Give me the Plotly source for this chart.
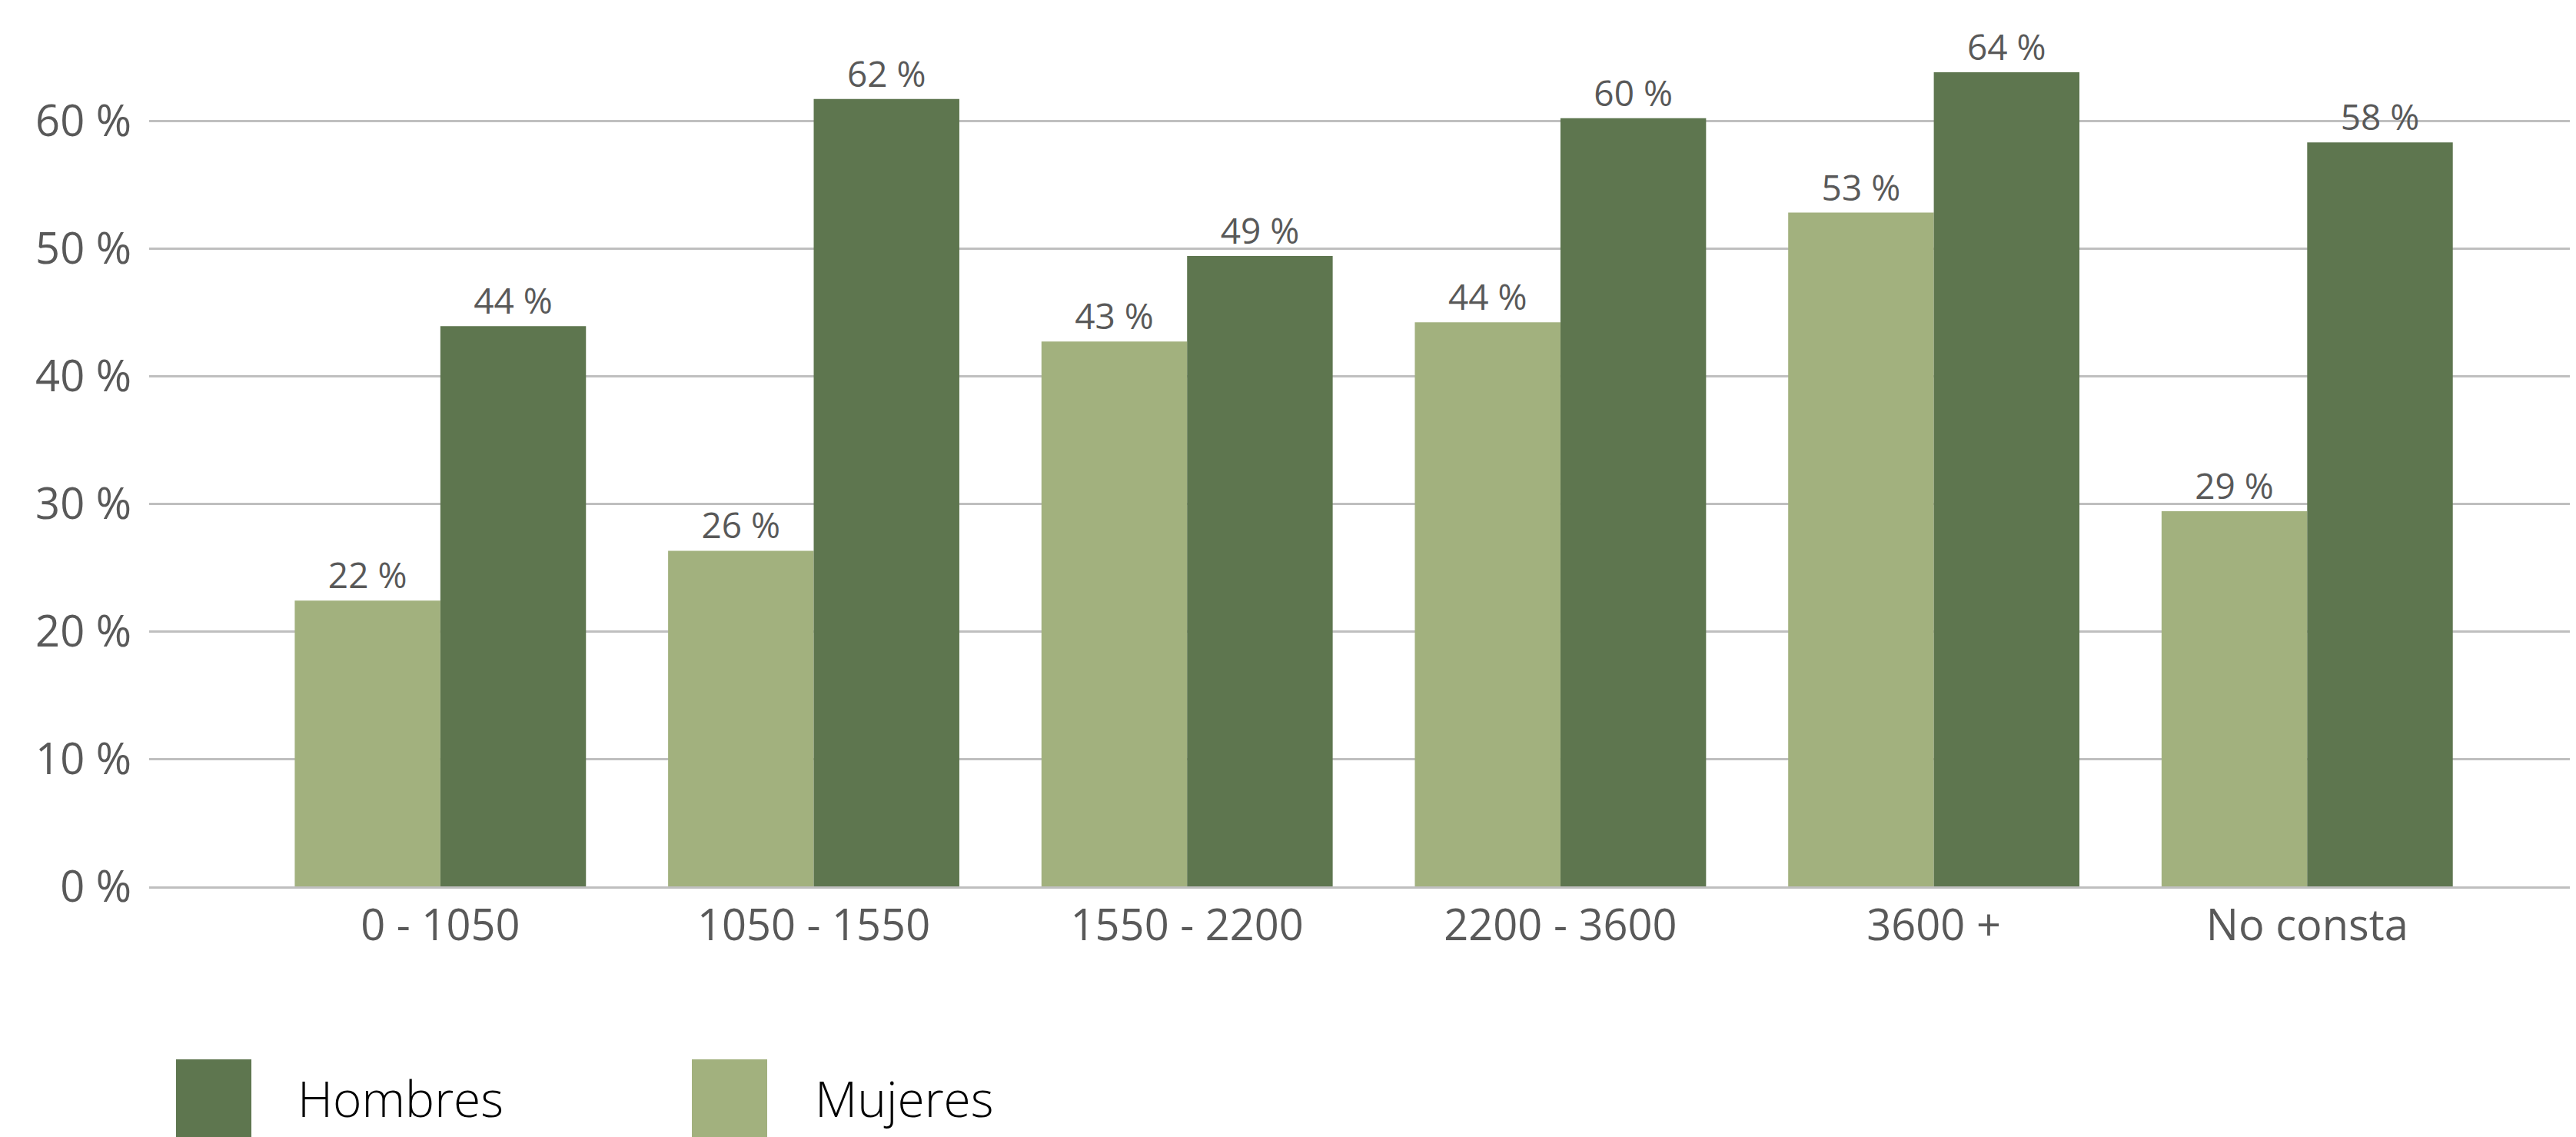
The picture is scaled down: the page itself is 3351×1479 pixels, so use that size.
import plotly.graph_objects as go

categorias = ["0 - 1050", "1050 - 1550", "1550 - 2200", "2200 - 3600", "3600 +", "No consta"]
mujeres = [22.4, 26.3, 42.7, 44.2, 52.8, 29.4]
hombres = [43.9, 61.7, 49.4, 60.2, 63.8, 58.3]
series = ["Hombres", "Mujeres"]

VERDE_OSCURO = "#5E764F"
VERDE_CLARO = "#A2B17E"
GRIS_TEXTO = "#595959"
GRIS_REJILLA = "#BFBFBF"

# la página tiene un margen de 8 px, así que el gráfico ocupa 3343x1471
OFF = 8
W, H = 3351 - OFF, 1479 - OFF
ML = 194 - OFF
EJE_Y0 = 1153 - OFF          # posición del 0 % en píxeles del gráfico
MB = H - EJE_Y0
PX_POR_UNIDAD = 16.6

fig = go.Figure()
fig.add_trace(go.Bar(
    x=categorias, y=mujeres, name="Mujeres", marker_color=VERDE_CLARO,
    texttemplate="%{y:.0f} %", textposition="outside", cliponaxis=False,
    textfont=dict(size=46, color=GRIS_TEXTO),
))
fig.add_trace(go.Bar(
    x=categorias, y=hombres, name="Hombres", marker_color=VERDE_OSCURO,
    texttemplate="%{y:.0f} %", textposition="outside", cliponaxis=False,
    textfont=dict(size=46, color=GRIS_TEXTO),
))

fig.update_layout(
    width=W, height=H,
    margin=dict(l=ML, r=0, t=0, b=MB),
    plot_bgcolor="white", paper_bgcolor="white",
    barmode="group", bargap=0.22, bargroupgap=0,
    showlegend=False,
    font=dict(family="Open Sans", color=GRIS_TEXTO),
)
fig.update_traces(marker_line_width=0, constraintext="none")
fig.update_xaxes(
    range=[-0.78, 5.72], showgrid=False, ticks="",
    tickfont=dict(size=56, color=GRIS_TEXTO), ticklabelstandoff=0,
    showline=True, linecolor=GRIS_REJILLA, linewidth=3, automargin=False,
)
fig.update_yaxes(
    range=[0, EJE_Y0 / PX_POR_UNIDAD], dtick=10, ticksuffix=" %",
    showgrid=True, gridcolor=GRIS_REJILLA, gridwidth=3,
    zeroline=False, ticks="", automargin=False,
    tickfont=dict(size=56, color=GRIS_TEXTO), ticklabelstandoff=22,
)

# leyenda manual con cuadros grandes (coordenadas de página)
plot_w = W - ML
plot_h = H - MB
def px_x(p):
    return (p - OFF - ML) / plot_w
def px_y(p):
    return (plot_h - (p - OFF)) / plot_h

leyenda = [(series[0], VERDE_OSCURO, 229, 385), (series[1], VERDE_CLARO, 900, 1058)]
for nombre, color, x0, xt in leyenda:
    fig.add_shape(type="rect", xref="paper", yref="paper",
                  x0=px_x(x0), x1=px_x(x0 + 98), y0=px_y(1378), y1=px_y(1490),
                  fillcolor=color, line_width=0)
    fig.add_annotation(x=px_x(xt), y=px_y(1428), xref="paper", yref="paper",
                       text=nombre, showarrow=False, xanchor="left", yanchor="middle",
                       font=dict(size=64, color="black", family="Open Sans", weight=300))

fig.write_html("out.html")
